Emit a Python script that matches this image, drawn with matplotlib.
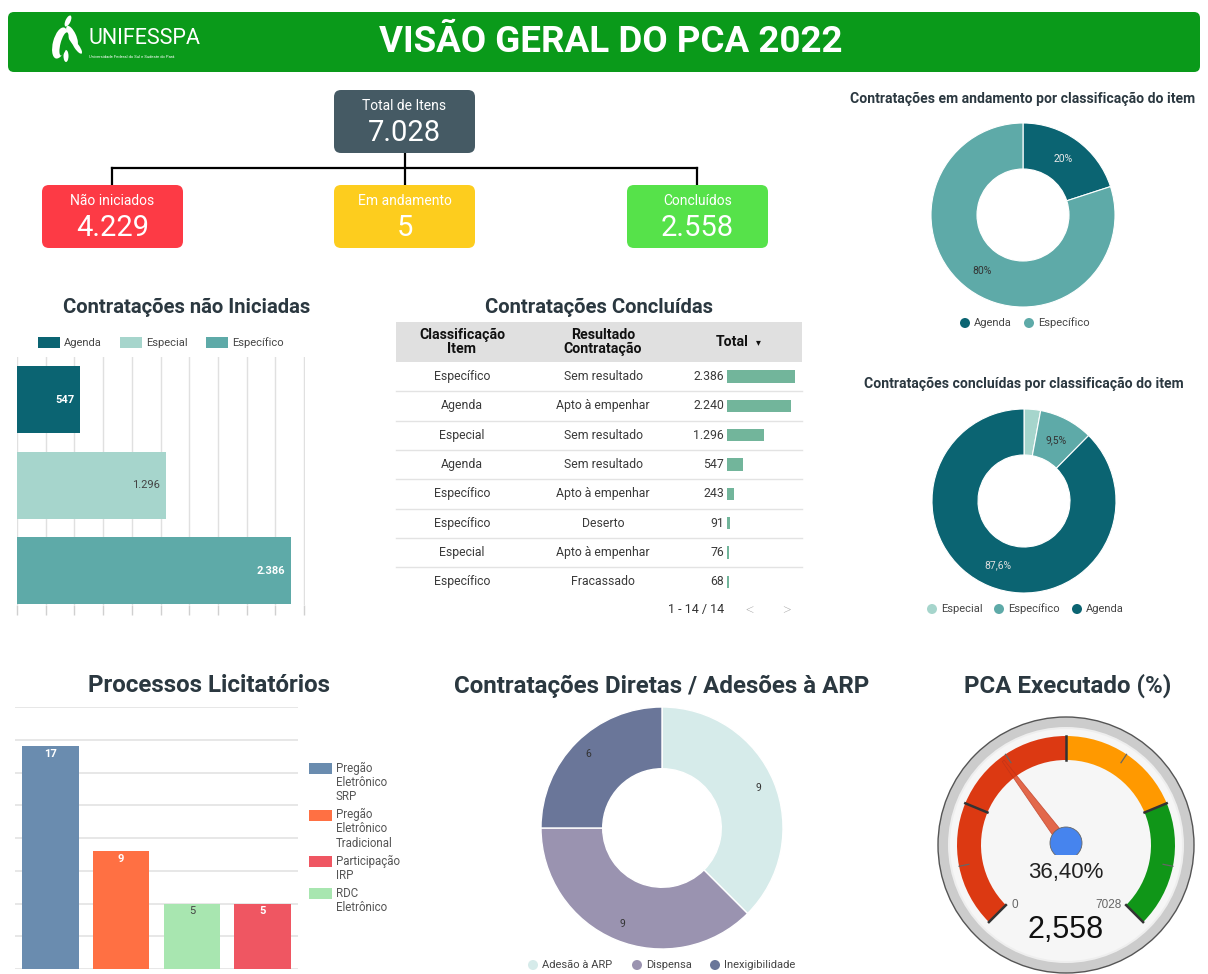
import numpy as np
import matplotlib
matplotlib.use("Agg")
import matplotlib.pyplot as plt
from matplotlib.patches import FancyBboxPatch, Rectangle, Circle, Wedge, Polygon, Ellipse

plt.rcParams['font.family'] = ['Roboto', 'DejaVu Sans']

# ---------------- data ----------------
header_title = "VISÃO GERAL DO PCA 2022"
kpi_labels = ["Total de Itens", "Não iniciados", "Em andamento", "Concluídos"]
kpi_values = [7028, 4229, 5, 2558]

nao_iniciadas_cats = ["Agenda", "Especial", "Específico"]
nao_iniciadas_vals = [547, 1296, 2386]

tab_classificacao = ["Específico", "Agenda", "Especial", "Agenda",
                     "Específico", "Específico", "Especial", "Específico"]
tab_resultado = ["Sem resultado", "Apto à empenhar", "Sem resultado", "Sem resultado",
                 "Apto à empenhar", "Deserto", "Apto à empenhar", "Fracassado"]
tab_total = [2386, 2240, 1296, 547, 243, 91, 76, 68]
tab_paginacao = "1 - 14 / 14"

andamento_cats = ["Agenda", "Específico"]
andamento_vals = [1, 4]

concluidas_cats = ["Especial", "Específico", "Agenda"]
concluidas_pct = [2.9, 9.5, 87.6]

proc_cats = ["Pregão Eletrônico SRP", "Pregão Eletrônico Tradicional",
             "RDC Eletrônico", "Participação IRP"]
proc_vals = [17, 9, 5, 5]
proc_legend_order = ["Pregão Eletrônico SRP", "Pregão Eletrônico Tradicional",
                     "Participação IRP", "RDC Eletrônico"]
proc_legend_lines = {"Pregão Eletrônico SRP": ["Pregão", "Eletrônico", "SRP"],
                     "Pregão Eletrônico Tradicional": ["Pregão", "Eletrônico", "Tradicional"],
                     "Participação IRP": ["Participação", "IRP"],
                     "RDC Eletrônico": ["RDC", "Eletrônico"]}

diretas_cats = ["Adesão à ARP", "Dispensa", "Inexigibilidade"]
diretas_vals = [9, 9, 6]

gauge_value = 2558
gauge_max = 7028
gauge_bands = [0.0, 0.5, 0.75, 1.0]

# ---------------- styles ----------------
W, H = 1208, 974
TITLE_C = '#2b3840'
TEAL_D, TEAL_L, TEAL_M = '#0b6472', '#a6d5cc', '#5eaaa8'
cls_colors = {"Agenda": TEAL_D, "Especial": TEAL_L, "Específico": TEAL_M}
proc_colors = {"Pregão Eletrônico SRP": '#6a8caf', "Pregão Eletrônico Tradicional": '#ff7043',
               "Participação IRP": '#ef5662', "RDC Eletrônico": '#a8e6b0'}
diretas_colors = ['#d6ebea', '#9a93b0', '#6a7699']


def br(v):
    return f"{v:,}".replace(",", ".")


fig = plt.figure(figsize=(W / 100, H / 100), dpi=100)


def px_axes(x0, y0, x1, y1):
    return fig.add_axes([x0 / W, 1 - y1 / H, (x1 - x0) / W, (y1 - y0) / H])


bg = fig.add_axes([0, 0, 1, 1])
bg.set_xlim(0, W)
bg.set_ylim(H, 0)
bg.axis('off')

# ---------------- header ----------------
GREEN = '#0a9a1a'
bg.add_patch(FancyBboxPatch((8, 12), 1192, 60, boxstyle="round,pad=0,rounding_size=6",
                            fc=GREEN, ec='none'))
bg.text(611, 42, header_title, color='white', fontsize=26.5, fontweight='bold',
        ha='center', va='center')
# logo (stylised flame leaves)
for (cx, cy, w, h, ang) in [(60, 43, 14, 32, 15), (72, 36, 8, 22, -25),
                             (68, 21, 5, 12, 25), (66, 56, 5, 12, 0), (77, 47, 5, 16, -35)]:
    bg.add_patch(Ellipse((cx, cy), w, h, angle=ang, fc='white', ec='none'))
bg.add_patch(Ellipse((64, 44), 7, 24, angle=15, fc=GREEN, ec='none'))
bg.text(88, 39, "UNIFESSPA", color='white', fontsize=15.5, fontweight='normal',
        ha='left', va='center')
bg.text(89, 57, "Universidade Federal do Sul e Sudeste do Pará", color='white', fontsize=3.0,
        ha='left', va='center')

# ---------------- KPI tree ----------------
kpi_boxes = [(334, 90, 475, 153, '#455a64'), (42, 185, 183, 248, '#fd3a45'),
             (334, 185, 475, 248, '#fdcd1e'), (627, 185, 768, 248, '#56e24a')]
bg.plot([405, 405], [153, 185], color='black', lw=1.6, zorder=1)
bg.plot([112, 697], [168, 168], color='black', lw=1.6, zorder=1)
bg.plot([112, 112], [168, 185], color='black', lw=1.6, zorder=1)
bg.plot([697, 697], [168, 185], color='black', lw=1.6, zorder=1)
for (x0, y0, x1, y1, c), lab, val in zip(kpi_boxes, kpi_labels, kpi_values):
    bg.add_patch(FancyBboxPatch((x0, y0), x1 - x0, y1 - y0, boxstyle="round,pad=0,rounding_size=7",
                                fc=c, ec='none', zorder=2))
    cx = (x0 + x1) / 2
    bg.text(cx, y0 + 16, lab, color='white', fontsize=10, ha='center', va='center', zorder=3)
    bg.text(cx, y0 + 43, br(val), color='white', fontsize=21, ha='center', va='center', zorder=3)

# ---------------- Contratações não Iniciadas ----------------
bg.text(187, 307, "Contratações não Iniciadas", color=TITLE_C, fontsize=14.6, fontweight='bold',
        ha='center', va='center')
for x, cat in zip([38, 120, 206], nao_iniciadas_cats):
    bg.add_patch(Rectangle((x, 337), 22, 11, fc=cls_colors[cat], ec='none'))
    bg.text(x + 26, 343, cat, color='#444444', fontsize=8, ha='left', va='center')

ax1 = px_axes(17, 357, 305, 605)
ax1.set_facecolor('none')
ax1.barh(range(len(nao_iniciadas_vals)), nao_iniciadas_vals, height=0.78,
         color=[cls_colors[c] for c in nao_iniciadas_cats], zorder=3)
ax1.set_xlim(0, 2508)
ax1.set_ylim(2.4, -0.5)
ax1.set_xticks(np.arange(0, 2501, 250))
ax1.set_xticklabels([])
ax1.set_yticks([])
ax1.tick_params(axis='x', length=7, color='#d0d0d0', width=1)
ax1.grid(axis='x', color='#e0e0e0', lw=1, zorder=0)
for s in ax1.spines.values():
    s.set_visible(False)
lab_style = [('white', 'bold'), ('#444444', 'normal'), ('white', 'bold')]
for i, v in enumerate(nao_iniciadas_vals):
    c, w = lab_style[i]
    ax1.annotate(br(v), (v, i), xytext=(-4, 0), textcoords='offset points', ha='right',
                 va='center', color=c, fontweight=w, fontsize=8, zorder=4)

# ---------------- Tabela Contratações Concluídas ----------------
bg.text(599, 307, "Contratações Concluídas", color=TITLE_C, fontsize=14.6, fontweight='bold',
        ha='center', va='center')
bg.add_patch(Rectangle((396, 322), 406, 40, fc='#e0e0e0', ec='none'))
bg.text(462, 342, "Classificação\nItem", fontsize=10.2, fontweight='bold', color='#111',
        ha='center', va='center', linespacing=0.92)
bg.text(603, 342, "Resultado\nContratação", fontsize=10.2, fontweight='bold', color='#111',
        ha='center', va='center', linespacing=0.92)
bg.text(732, 342, "Total", fontsize=10.2, fontweight='bold', color='#111', ha='center', va='center')
bg.text(758, 342, "▾", fontsize=7, color='#111', ha='center', va='center',
        family=['DejaVu Sans'])
row_h = 29.3
for i, (c, r, t) in enumerate(zip(tab_classificacao, tab_resultado, tab_total)):
    yc = 362 + row_h * (i + 0.5)
    bg.text(462, yc, c, fontsize=8.8, color='#3a3a3a', ha='center', va='center')
    bg.text(603, yc, r, fontsize=8.8, color='#3a3a3a', ha='center', va='center')
    bg.text(724, yc, br(t), fontsize=8.8, color='#3a3a3a', ha='right', va='center')
    if i < len(tab_total) - 1:
        bg.plot([396, 802], [362 + row_h * (i + 1)] * 2, color='#e3e3e3', lw=1)
axt = px_axes(727, 362, 802, 362 + row_h * len(tab_total))
axt.barh(range(len(tab_total)), tab_total, height=0.42, color='#72b59b')
axt.set_xlim(0, 2632)
axt.set_ylim(len(tab_total) - 0.5, -0.5)
axt.axis('off')
bg.text(696, 610, tab_paginacao, fontsize=9, color='#333', ha='center', va='center')
bg.text(750, 611, "<", fontsize=12, color='#9a9a9a', fontweight='light', ha='center', va='center')
bg.text(786, 611, ">", fontsize=12, color='#9a9a9a', fontweight='light', ha='center', va='center')


# ---------------- donuts ----------------
def donut(cx, cy, R, vals, colors, width, pdist, labels, lcolors, fsize, edge_lw=0.8):
    m = 6
    ax = px_axes(cx - R - m, cy - R - m, cx + R + m, cy + R + m)
    wedges, _ = ax.pie(vals, colors=colors, startangle=90, counterclock=False,
                       wedgeprops=dict(width=width, edgecolor='white', linewidth=edge_lw))
    lim = (R + m) / R
    ax.set_xlim(-lim, lim)
    ax.set_ylim(-lim, lim)
    for w, lab, lc in zip(wedges, labels, lcolors):
        th = np.deg2rad((w.theta1 + w.theta2) / 2)
        ax.text(pdist * np.cos(th), pdist * np.sin(th), lab, color=lc, fontsize=fsize,
                ha='center', va='center')
    return ax


def dot_legend(items, y):
    for x, lab, col in items:
        bg.add_patch(Circle((x, y), 5, fc=col, ec='none'))
        bg.text(x + 9, y, lab, fontsize=8, color='#444', ha='left', va='center')


# em andamento
bg.text(1023, 99, "Contratações em andamento por classificação do item", color=TITLE_C,
        fontsize=10.05, fontweight='bold', ha='center', va='center')
tot_a = sum(andamento_vals)
donut(1023, 215, 92, andamento_vals, [cls_colors[c] for c in andamento_cats], 0.5, 0.75,
      [f"{100 * v / tot_a:.0f}%" for v in andamento_vals], ['#e8e8e8', '#333'], 7.5)
dot_legend([(965, "Agenda", cls_colors["Agenda"]), (1029, "Específico", cls_colors["Específico"])], 323)

# concluídas
bg.text(1024, 384, "Contratações concluídas por classificação do item", color=TITLE_C,
        fontsize=10.05, fontweight='bold', ha='center', va='center')
lab_c = [("" if p < 5 else f"{p:.1f}".replace(".", ",") + "%") for p in concluidas_pct]
donut(1024, 501, 92, concluidas_pct, [cls_colors[c] for c in concluidas_cats], 0.5, 0.75,
      lab_c, ['#333', '#333', '#dddddd'], 7.5)
dot_legend([(932, "Especial", cls_colors["Especial"]), (999, "Específico", cls_colors["Específico"]),
            (1077, "Agenda", cls_colors["Agenda"])], 609)

# ---------------- Processos Licitatórios ----------------
bg.text(209, 686, "Processos Licitatórios", color=TITLE_C, fontsize=17.4, fontweight='bold',
        ha='center', va='center')
axp = px_axes(15, 707, 298, 969)
axp.set_facecolor('none')
axp.bar(range(len(proc_vals)), proc_vals, width=0.8, color=[proc_colors[c] for c in proc_cats], zorder=3)
axp.set_xlim(-0.5, 3.5)
axp.set_ylim(0, 20)
axp.set_yticks(np.arange(0, 20.1, 2.5))
axp.set_yticklabels([])
axp.set_xticks([])
axp.tick_params(length=0)
axp.grid(axis='y', color='#e3e3e3', lw=1.2, zorder=0)
for s in axp.spines.values():
    s.set_visible(False)
for i, (c, v) in enumerate(zip(proc_cats, proc_vals)):
    light = c == "RDC Eletrônico"
    axp.annotate(str(v), (i, v), xytext=(0, -2), textcoords='offset points', ha='center', va='top',
                 fontsize=8, color='#444' if light else 'white',
                 fontweight='normal' if light else 'bold', zorder=4)
yy = 768
for c in proc_legend_order:
    bg.add_patch(Rectangle((309, yy - 5), 23, 11, fc=proc_colors[c], ec='none'))
    lines = proc_legend_lines[c]
    for k, ln in enumerate(lines):
        bg.text(336, yy + k * 14.3, ln, fontsize=8.3, color='#555', ha='left', va='center')
    yy += len(lines) * 14.3 + 3.6

# ---------------- Contratações Diretas ----------------
bg.text(662, 686, "Contratações Diretas / Adesões à ARP", color=TITLE_C, fontsize=17.4,
        fontweight='bold', ha='center', va='center')
donut(662, 828, 121, diretas_vals, diretas_colors, 0.51, 0.86,
      [str(v) for v in diretas_vals], ['#333'] * 3, 7.5, edge_lw=1)
dot_legend([(533, diretas_cats[0], diretas_colors[0]), (637, diretas_cats[1], diretas_colors[1]),
            (715, diretas_cats[2], diretas_colors[2])], 965)

# ---------------- Gauge ----------------
bg.text(1068, 686, "PCA Executado (%)", color=TITLE_C, fontsize=17.4, fontweight='bold',
        ha='center', va='center')
gx, gy = 1066, 845
axg = px_axes(gx - 135, gy - 135, gx + 135, gy + 135)
axg.set_xlim(-135, 135)
axg.set_ylim(-135, 135)
axg.axis('off')
axg.add_patch(Circle((0, 0), 128, fc='#cccccc', ec='#555555', lw=1))
axg.add_patch(Circle((0, 0), 118, fc='#eeeeee', ec='none'))
axg.add_patch(Circle((0, 0), 116, fc='#f6f6f6', ec='none'))


def g2theta(frac):
    a = -135 + 270 * frac  # angle from top, clockwise
    return 90 - a


band_cols = ['#dc3912', '#ff9900', '#109618']
for k in range(3):
    axg.add_patch(Wedge((0, 0), 109, g2theta(gauge_bands[k + 1]), g2theta(gauge_bands[k]),
                        width=24, fc=band_cols[k], ec='none'))
for k in range(5):
    th = np.deg2rad(g2theta(k / 4))
    axg.plot([85 * np.cos(th), 109 * np.cos(th)], [85 * np.sin(th), 109 * np.sin(th)],
             color='#333', lw=1.8)
for k in range(4):
    th = np.deg2rad(g2theta((k + 0.5) / 4))
    axg.plot([99 * np.cos(th), 109 * np.cos(th)], [99 * np.sin(th), 109 * np.sin(th)],
             color='#666', lw=0.9)
frac = gauge_value / gauge_max
th = np.deg2rad(g2theta(frac))
d = np.array([np.cos(th), np.sin(th)])
p = np.array([-d[1], d[0]])
needle = Polygon([5.5 * p, -5.5 * p, 105 * d - 1.2 * p, 105 * d + 1.2 * p], closed=True,
                 fc='#dc3912', ec='#b8321a', lw=0.5, alpha=0.75)
axg.add_patch(needle)
hub = Circle((0, 2), 16, fc='#4684ee', ec='#666666', lw=0.6)
axg.add_patch(hub)
clip = Rectangle((-30, -10), 60, 60, transform=axg.transData)
hub.set_clip_path(clip)
gfont = ['Liberation Sans', 'DejaVu Sans']
axg.text(0, -28, f"{100 * frac:.2f}".replace(".", ",") + "%", fontsize=16, color='#222',
         ha='center', va='center', family=gfont)
axg.text(0, -85, f"{gauge_value:,}", fontsize=22, color='#111', ha='center', va='center', family=gfont)
axg.text(-51, -60, "0", fontsize=8.5, color='#666', ha='center', va='center', family=gfont)
axg.text(42, -60, str(gauge_max), fontsize=8.5, color='#666', ha='center', va='center', family=gfont)

fig.savefig("out.png", dpi=100)
